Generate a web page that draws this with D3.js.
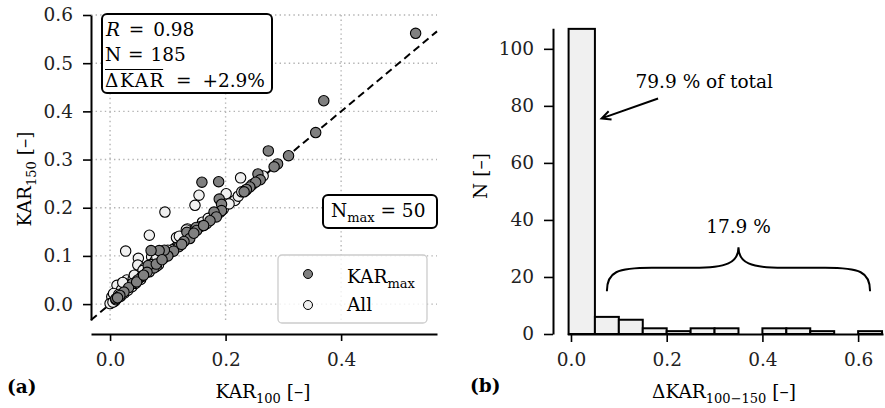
<!DOCTYPE html>
<html>
<head>
<meta charset="utf-8">
<script src="https://cdn.jsdelivr.net/npm/d3@7"></script>
<style>
  body { margin: 0; background: #fff; }
  svg { display: block; }
</style>
</head>
<body>
<svg id="chart" width="885" height="408"></svg>
<script>
// ---- data, panel (a): [KAR100, KAR150]
var karMaxPoints = [
  [0.529, 0.562], [0.370, 0.422], [0.356, 0.356], [0.309, 0.308], [0.290, 0.291],
  [0.284, 0.285], [0.274, 0.318], [0.256, 0.270], [0.260, 0.258], [0.252, 0.253],
  [0.242, 0.243], [0.236, 0.238], [0.232, 0.233], [0.159, 0.253], [0.188, 0.254],
  [0.189, 0.218], [0.193, 0.207], [0.193, 0.194], [0.180, 0.191], [0.184, 0.181],
  [0.173, 0.173], [0.149, 0.159], [0.150, 0.153], [0.133, 0.149], [0.138, 0.136],
  [0.128, 0.130], [0.119, 0.119], [0.110, 0.110], [0.100, 0.100], [0.094, 0.112],
  [0.085, 0.111], [0.071, 0.111], [0.076, 0.075], [0.066, 0.080], [0.064, 0.066],
  [0.055, 0.057], [0.048, 0.050], [0.039, 0.043], [0.032, 0.034], [0.024, 0.025],
  [0.017, 0.018], [0.010, 0.011], [0.145, 0.147], [0.162, 0.163], [0.080, 0.083],
  [0.090, 0.092], [0.046, 0.046], [0.124, 0.124], [0.058, 0.060], [0.013, 0.013]
];
var allPoints = [
  [0.226, 0.262], [0.201, 0.229], [0.216, 0.215], [0.154, 0.226], [0.147, 0.205],
  [0.095, 0.191], [0.068, 0.143], [0.027, 0.110], [0.049, 0.095], [0.048, 0.081],
  [0.012, 0.039], [0.029, 0.050], [0.003, 0.015], [0.000, 0.001], [0.121, 0.140],
  [0.167, 0.167], [0.072, 0.098], [0.134, 0.156], [0.160, 0.170], [0.060, 0.075],
  [0.040, 0.052], [0.020, 0.030], [0.006, 0.022], [0.008, 0.006], [0.015, 0.020],
  [0.035, 0.040], [0.052, 0.062], [0.063, 0.068], [0.078, 0.090], [0.087, 0.093],
  [0.098, 0.104], [0.105, 0.108], [0.112, 0.116], [0.118, 0.123], [0.126, 0.128],
  [0.139, 0.143], [0.143, 0.152], [0.152, 0.158], [0.157, 0.161], [0.176, 0.180],
  [0.185, 0.186], [0.196, 0.197], [0.206, 0.208], [0.222, 0.224], [0.228, 0.233],
  [0.235, 0.236], [0.246, 0.248], [0.258, 0.260], [0.265, 0.266], [0.005, 0.004],
  [0.010, 0.009], [0.018, 0.016], [0.025, 0.023], [0.031, 0.029], [0.038, 0.036],
  [0.044, 0.043], [0.053, 0.051], [0.068, 0.067], [0.084, 0.082], [0.093, 0.096],
  [0.108, 0.113], [0.130, 0.135], [0.070, 0.082], [0.057, 0.070], [0.042, 0.060],
  [0.022, 0.045], [0.115, 0.138], [0.100, 0.112], [0.080, 0.078], [0.170, 0.178],
  [0.190, 0.190], [0.132, 0.154], [0.081, 0.098], [0.120, 0.141]
];
var scatterTicksX = [0, 0.2, 0.4];
var scatterTicksY = [0, 0.1, 0.2, 0.3, 0.4, 0.5, 0.6];
var identityRange = [-0.033, 0.566];
var statR = '0.98', statN = '185', statDelta = '+2.9%', statNmax = '50';
var legendLabels = ['KAR', 'All'];

// ---- data, panel (b): histogram of ΔKAR
var histEdges = [-0.005, 0.05, 0.1, 0.15, 0.2, 0.25, 0.3, 0.35, 0.4, 0.45, 0.5, 0.55, 0.6, 0.65];
var histCounts = [107, 6, 5, 2, 1, 2, 2, 0, 2, 2, 1, 0, 1];
var histTicksX = [0, 0.2, 0.4, 0.6];
var histTicksY = [0, 20, 40, 60, 80, 100];
var peakLabel = '79.9 % of total';
var tailLabel = '17.9 %';

var FONT = "'DejaVu Serif', serif";
var FS = 18.5;
var SUB = 13;
var GREY = '#808080', LIGHT = '#f0f0f0';
var NB = '\u00a0';

var svg = d3.select('#chart').attr('font-family', FONT);

function styleAxis(g) {
  g.attr('font-family', FONT).attr('font-size', FS);
  g.select('.domain').attr('stroke', '#000').attr('stroke-width', 2);
  g.selectAll('.tick line').attr('stroke', '#000').attr('stroke-width', 1.6);
  g.selectAll('.tick text').attr('fill', '#222');
}

// text with a subscript: main, sub, rest
function subText(parent, x, y, main, sub, rest, anchor) {
  var t = parent.append('text')
    .attr('x', x).attr('y', y)
    .attr('font-size', FS)
    .attr('text-anchor', anchor || 'start');
  t.append('tspan').text(main);
  t.append('tspan').attr('font-size', SUB).attr('dy', 5).text(sub);
  if (rest) t.append('tspan').attr('dy', -5).text(rest);
  return t;
}

// =================== panel (a) ===================
var ax = d3.scaleLinear().domain([-0.033, 0.566]).range([91, 437]);
var ay = d3.scaleLinear().domain([-0.033, 0.6]).range([320, 15]);
var gA = svg.append('g');

// dotted grid
gA.append('g').selectAll('line').data(scatterTicksX).enter().append('line')
  .attr('x1', function (d) { return ax(d); }).attr('x2', function (d) { return ax(d); })
  .attr('y1', ay.range()[0]).attr('y2', ay.range()[1]);
gA.append('g').selectAll('line').data(scatterTicksY).enter().append('line')
  .attr('y1', function (d) { return ay(d); }).attr('y2', function (d) { return ay(d); })
  .attr('x1', ax.range()[0]).attr('x2', ax.range()[1]);
gA.selectAll('line')
  .attr('stroke', '#b3b3b3').attr('stroke-width', 1.4).attr('stroke-dasharray', '1.4,3.2');

// 1:1 line
gA.append('path')
  .datum(identityRange.map(function (v) { return [v, v]; }))
  .attr('d', d3.line().x(function (d) { return ax(d[0]); }).y(function (d) { return ay(d[1]); }))
  .attr('stroke', '#000').attr('stroke-width', 2).attr('stroke-dasharray', '7.5,4.5').attr('fill', 'none');

// points
gA.append('g').selectAll('circle').data(allPoints).enter().append('circle')
  .attr('cx', function (d) { return ax(d[0]); }).attr('cy', function (d) { return ay(d[1]); })
  .attr('r', 5.2).attr('fill', LIGHT).attr('stroke', '#000').attr('stroke-width', 1.1);
gA.append('g').selectAll('circle').data(karMaxPoints).enter().append('circle')
  .attr('cx', function (d) { return ax(d[0]); }).attr('cy', function (d) { return ay(d[1]); })
  .attr('r', 5.2).attr('fill', GREY).attr('stroke', '#000').attr('stroke-width', 1.1);

// axes (x spine offset below the data area)
gA.append('g').attr('transform', 'translate(0,334)')
  .call(d3.axisBottom(ax).tickValues(scatterTicksX).tickFormat(d3.format('.1f'))
    .tickSize(7).tickPadding(12).tickSizeOuter(0))
  .call(styleAxis);
gA.append('g').attr('transform', 'translate(91,0)')
  .call(d3.axisLeft(ay).tickValues(scatterTicksY).tickFormat(d3.format('.1f'))
    .tickSize(8).tickPadding(10).tickSizeOuter(0))
  .call(styleAxis);

subText(gA, 263, 398, 'KAR', '100', NB + '[–]', 'middle');
subText(gA.append('g').attr('transform', 'translate(31,179) rotate(-90)'), 0, 0, 'KAR', '150', NB + '[–]', 'middle');
gA.append('text').attr('x', 7).attr('y', 393).attr('font-size', FS).attr('font-weight', 'bold').text('(a)');

// stats box
gA.append('rect').attr('x', 102).attr('y', 14).attr('width', 170).attr('height', 79).attr('rx', 5)
  .attr('fill', '#fff').attr('stroke', '#000').attr('stroke-width', 2);
var r1 = gA.append('text').attr('x', 106).attr('y', 36).attr('font-size', FS).attr('word-spacing', 3);
r1.append('tspan').attr('font-style', 'italic').text('R');
r1.append('tspan').text(NB + '= ' + statR);
gA.append('text').attr('x', 105).attr('y', 61).attr('font-size', FS).attr('word-spacing', 1)
  .text('N = ' + statN);
var dk = gA.append('text').attr('x', 105).attr('y', 87).attr('font-size', FS)
  .attr('letter-spacing', 1.6).text('ΔKAR');
var dkW = dk.node().getComputedTextLength();
gA.append('text').attr('x', 105 + dkW).attr('y', 87).attr('font-size', FS).attr('word-spacing', 5)
  .text(NB + '= ' + statDelta);
gA.append('line').attr('x1', 105).attr('x2', 103 + dkW).attr('y1', 69.5).attr('y2', 69.5)
  .attr('stroke', '#000').attr('stroke-width', 1.2);

// N_max box
gA.append('rect').attr('x', 323).attr('y', 195).attr('width', 114).attr('height', 33).attr('rx', 5)
  .attr('fill', '#fff').attr('stroke', '#000').attr('stroke-width', 2);
subText(gA, 331, 217, 'N', 'max', NB + '=' + NB + statNmax);

// legend
var lg = gA.append('g');
lg.append('rect').attr('x', 278).attr('y', 255).attr('width', 149).attr('height', 68).attr('rx', 4)
  .attr('fill', '#fff').attr('fill-opacity', 0.8).attr('stroke', '#cccccc').attr('stroke-width', 1.3);
lg.append('circle').attr('cx', 308).attr('cy', 274).attr('r', 4.5)
  .attr('fill', GREY).attr('stroke', '#000').attr('stroke-width', 1);
lg.append('circle').attr('cx', 308).attr('cy', 305).attr('r', 4.5)
  .attr('fill', LIGHT).attr('stroke', '#000').attr('stroke-width', 1);
subText(lg, 347, 283, legendLabels[0], 'max');
lg.append('text').attr('x', 347).attr('y', 311).attr('font-size', FS).text(legendLabels[1]);

// =================== panel (b) ===================
var bx = d3.scaleLinear().domain([-0.0077, 0.652]).range([567.3, 883]);
var by = d3.scaleLinear().domain([0, 107.2]).range([334, 28.3]);
var gB = svg.append('g');

gB.append('g').selectAll('rect').data(histCounts).enter().append('rect')
  .attr('x', function (d, i) { return bx(histEdges[i]); })
  .attr('width', function (d, i) { return bx(histEdges[i + 1]) - bx(histEdges[i]); })
  .attr('y', function (d) { return by(d); })
  .attr('height', function (d) { return by(0) - by(d); })
  .attr('fill', LIGHT).attr('stroke', '#000').attr('stroke-width', 2);

gB.append('g').attr('transform', 'translate(0,334)')
  .call(d3.axisBottom(bx).tickValues(histTicksX).tickFormat(d3.format('.1f'))
    .tickSize(8).tickPadding(11).tickSizeOuter(0))
  .call(styleAxis);
gB.append('g').attr('transform', 'translate(553,0)')
  .call(d3.axisLeft(by).tickValues(histTicksY).tickSize(9).tickPadding(10).tickSizeOuter(0))
  .call(styleAxis);

subText(gB, 724, 398, 'ΔKAR', '100−150', NB + '[–]', 'middle');
gB.append('text').attr('transform', 'translate(487,176) rotate(-90)')
  .attr('text-anchor', 'middle').attr('font-size', FS).text('N [–]');
gB.append('text').attr('x', 470).attr('y', 392).attr('font-size', FS).attr('font-weight', 'bold').text('(b)');

// arrow to the first bin
var tail = [bx(0.182), by(82.6)], tip = [bx(0.064), by(75.6)];
var ang = Math.atan2(tail[1] - tip[1], tail[0] - tip[0]);
var head = 10, spread = 0.45;
gB.append('path')
  .attr('d', 'M' + tail + 'L' + tip +
    'M' + [tip[0] + head * Math.cos(ang - spread), tip[1] + head * Math.sin(ang - spread)] +
    'L' + tip +
    'L' + [tip[0] + head * Math.cos(ang + spread), tip[1] + head * Math.sin(ang + spread)])
  .attr('fill', 'none').attr('stroke', '#000').attr('stroke-width', 2);
gB.append('text').attr('x', bx(0.135)).attr('y', by(86.1)).attr('font-size', FS).text(peakLabel);

// curly brace over the tail bins
var bl = bx(0.075), br = bx(0.625), bm = bx(0.35);
var yEnd = by(15), yMid = by(23.2), yTip = by(30.4);
var brace = d3.path();
brace.moveTo(bl, yEnd);
brace.bezierCurveTo(bl, yMid + 4, bl + 10, yMid, bl + 45, yMid);
brace.lineTo(bm - 45, yMid);
brace.bezierCurveTo(bm - 12, yMid, bm, yMid - 5, bm, yTip);
brace.bezierCurveTo(bm, yMid - 5, bm + 12, yMid, bm + 45, yMid);
brace.lineTo(br - 45, yMid);
brace.bezierCurveTo(br - 10, yMid, br, yMid + 4, br, yEnd);
gB.append('path').attr('d', brace.toString())
  .attr('fill', 'none').attr('stroke', '#000').attr('stroke-width', 2);
gB.append('text').attr('x', bm).attr('y', by(35.3)).attr('text-anchor', 'middle')
  .attr('font-size', FS).text(tailLabel);
</script>
</body>
</html>
